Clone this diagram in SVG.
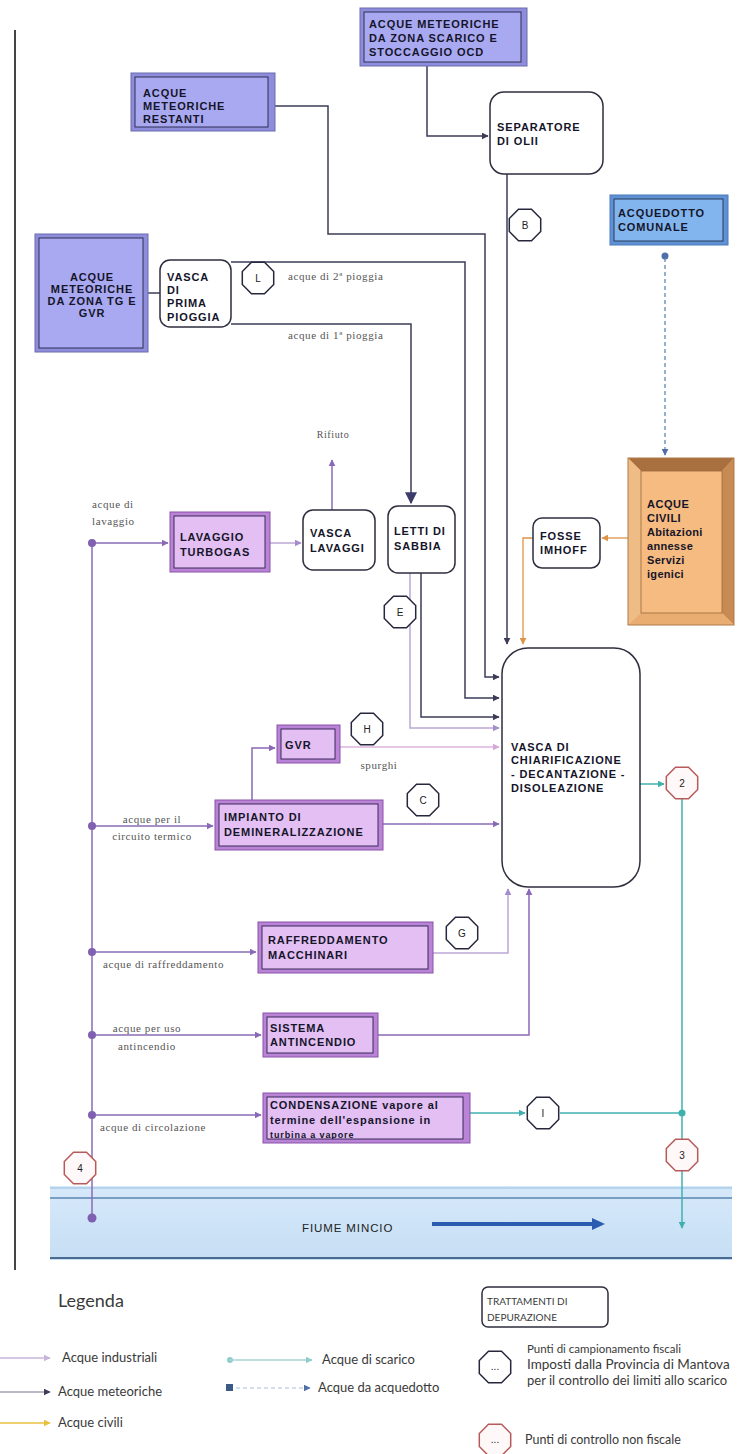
<svg xmlns="http://www.w3.org/2000/svg" width="738" height="1454" viewBox="0 0 738 1454">
<style>
.bt{font-family:"Liberation Sans",Arial,sans-serif;font-size:11px;font-weight:bold;fill:#15152a;letter-spacing:0.9px}
.lb{font-family:"Liberation Serif","Times New Roman",serif;font-size:11px;fill:#555;letter-spacing:0.6px}
.lg{font-family:Lato,"Open Sans",sans-serif;font-size:13px;fill:#3a3a3a}
.ot{font-family:"Liberation Sans",Arial,sans-serif;font-size:10px;fill:#222;text-anchor:middle}
.mOut{fill:#8d8ddc;stroke:#6a6ab0;stroke-width:1}
.mIn{fill:#a9a9f1;stroke:#2e2e52;stroke-width:1}
.pOut{fill:#b983d6;stroke:#8a52aa;stroke-width:1}
.pIn{fill:#e3bff3;stroke:#3a2a5a;stroke-width:1}
.rr{fill:#fff;stroke:#2e2e3e;stroke-width:1.5}
.ob{fill:#fff;stroke:#26263c;stroke-width:1.5}
.or{fill:#fff8f8;stroke:#b85a5a;stroke-width:1.5}
.met{fill:none;stroke:#3c3c58;stroke-width:1.5}
.ind{fill:none;stroke:#8a6ab6;stroke-width:1.5}
.indl{fill:none;stroke:#bca8d6;stroke-width:1.5}
.spu{fill:none;stroke:#e6c6e6;stroke-width:2}
.civ{fill:none;stroke:#de9448;stroke-width:1.3}
.sca{fill:none;stroke:#3fb0b0;stroke-width:1.5}
.acq{fill:none;stroke:#4f7fb0;stroke-width:1.2;stroke-dasharray:4 3}
</style>
<defs>
<marker id="aMet" viewBox="0 0 10 10" refX="9" refY="5" markerWidth="7" markerHeight="7" orient="auto" markerUnits="userSpaceOnUse"><path d="M0,0L10,5L0,10z" fill="#3c3c58"/></marker>
<marker id="aMetB" viewBox="0 0 10 10" refX="9" refY="5" markerWidth="12" markerHeight="12" orient="auto" markerUnits="userSpaceOnUse"><path d="M0,0L10,5L0,10z" fill="#3c3c6c"/></marker>
<marker id="aInd" viewBox="0 0 10 10" refX="9" refY="5" markerWidth="7" markerHeight="7" orient="auto" markerUnits="userSpaceOnUse"><path d="M0,0L10,5L0,10z" fill="#8a6ab6"/></marker>
<marker id="aIndL" viewBox="0 0 10 10" refX="9" refY="5" markerWidth="7" markerHeight="7" orient="auto" markerUnits="userSpaceOnUse"><path d="M0,0L10,5L0,10z" fill="#a58ccc"/></marker>
<marker id="aSpu" viewBox="0 0 10 10" refX="9" refY="5" markerWidth="7" markerHeight="7" orient="auto" markerUnits="userSpaceOnUse"><path d="M0,0L10,5L0,10z" fill="#d6a8d8"/></marker>
<marker id="aCiv" viewBox="0 0 10 10" refX="9" refY="5" markerWidth="7" markerHeight="7" orient="auto" markerUnits="userSpaceOnUse"><path d="M0,0L10,5L0,10z" fill="#de9448"/></marker>
<marker id="aSca" viewBox="0 0 10 10" refX="9" refY="5" markerWidth="7" markerHeight="7" orient="auto" markerUnits="userSpaceOnUse"><path d="M0,0L10,5L0,10z" fill="#3fb0b0"/></marker>
<marker id="aAcq" viewBox="0 0 10 10" refX="9" refY="5" markerWidth="7" markerHeight="7" orient="auto" markerUnits="userSpaceOnUse"><path d="M0,0L10,5L0,10z" fill="#4f6fa8"/></marker>
<marker id="aYel" viewBox="0 0 10 10" refX="9" refY="5" markerWidth="7" markerHeight="7" orient="auto" markerUnits="userSpaceOnUse"><path d="M0,0L10,5L0,10z" fill="#e8c040"/></marker>
<marker id="aLtInd" viewBox="0 0 10 10" refX="9" refY="5" markerWidth="7" markerHeight="7" orient="auto" markerUnits="userSpaceOnUse"><path d="M0,0L10,5L0,10z" fill="#c8b4dc"/></marker>
<marker id="aLtSca" viewBox="0 0 10 10" refX="9" refY="5" markerWidth="7" markerHeight="7" orient="auto" markerUnits="userSpaceOnUse"><path d="M0,0L10,5L0,10z" fill="#90cccc"/></marker>
<polygon id="oct" points="6.5,-15.7 15.7,-6.5 15.7,6.5 6.5,15.7 -6.5,15.7 -15.7,6.5 -15.7,-6.5 -6.5,-15.7"/>
<linearGradient id="river" x1="0" y1="0" x2="0" y2="1"><stop offset="0" stop-color="#d6e9fa"/><stop offset="1" stop-color="#c6def4"/></linearGradient>
<clipPath id="condClip"><rect x="267" y="1097" width="196" height="42"/></clipPath>
</defs>
<rect width="738" height="1454" fill="#fff"/>

<!-- left border line -->
<line x1="15" y1="30" x2="15" y2="1270" stroke="#444" stroke-width="2"/>

<!-- river -->
<g id="fiume">
<rect x="50" y="1186" width="682" height="74" fill="url(#river)"/>
<line x1="50" y1="1188" x2="732" y2="1188" stroke="#a8cbe6" stroke-width="1.5"/>
<line x1="50" y1="1198" x2="732" y2="1198" stroke="#5a86b0" stroke-width="1.5"/>
<line x1="50" y1="1258" x2="732" y2="1258" stroke="#4a6a90" stroke-width="2"/>
<text x="302" y="1232" class="bt" style="font-weight:normal;font-size:11.5px;fill:#222">FIUME MINCIO</text>
<line x1="432" y1="1224" x2="594" y2="1224" stroke="#2b5cb0" stroke-width="4"/>
<path d="M592,1218L605,1224L592,1230z" fill="#2b5cb0"/>
</g>

<g id="connectors">
<!-- meteoriche -->
<path class="met" d="M427,66V136H488" marker-end="url(#aMet)"/>
<path class="met" d="M275,106H328V234H485V677H499" marker-end="url(#aMet)"/>
<path class="met" d="M148,293H160"/>
<path class="met" d="M231,262H465V698H499" marker-end="url(#aMet)"/>
<path class="met" d="M231,324H411V503" marker-end="url(#aMetB)"/>
<path class="met" d="M507,174V644" marker-end="url(#aMet)"/>
<path class="met" d="M421,573V717H499" marker-end="url(#aMet)"/>
<!-- industriali -->
<path class="ind" d="M92,543V1218"/>
<path class="ind" d="M92,543H168" marker-end="url(#aInd)"/>
<path class="indl" d="M270,543H301" marker-end="url(#aIndL)"/>
<path class="ind" d="M332,510V460" marker-end="url(#aInd)"/>
<path class="indl" d="M410,573V728H499" marker-end="url(#aIndL)"/>
<path class="spu" d="M340,747H499" marker-end="url(#aSpu)"/>
<path class="ind" d="M252,800V748H275" marker-end="url(#aInd)"/>
<path class="ind" d="M92,826H213" marker-end="url(#aInd)"/>
<path class="ind" d="M383,824H499" marker-end="url(#aInd)"/>
<path class="ind" d="M92,952H256" marker-end="url(#aInd)"/>
<path class="indl" d="M433,953H508V889" marker-end="url(#aIndL)"/>
<path class="ind" d="M92,1035H261" marker-end="url(#aInd)"/>
<path class="ind" d="M378,1035H529V889" marker-end="url(#aInd)"/>
<path class="ind" d="M92,1115H261" marker-end="url(#aInd)"/>
<circle cx="92" cy="543" r="4" fill="#8060b0"/>
<circle cx="92" cy="826" r="4" fill="#8060b0"/>
<circle cx="92" cy="952" r="4" fill="#8060b0"/>
<circle cx="92" cy="1035" r="4" fill="#8060b0"/>
<circle cx="92" cy="1115" r="4" fill="#8060b0"/>
<circle cx="92" cy="1218" r="4.5" fill="#8060b0"/>
<!-- civili -->
<path class="civ" d="M628,538H602" marker-end="url(#aCiv)"/>
<path class="civ" d="M533,538H523V644" marker-end="url(#aCiv)"/>
<!-- acquedotto -->
<circle cx="665" cy="256" r="3.5" fill="#4f6fa8"/>
<path class="acq" d="M665,258V455" marker-end="url(#aAcq)"/>
<!-- scarico -->
<path class="sca" d="M640,784H664" marker-end="url(#aSca)"/>
<path class="sca" d="M682,799V1228" marker-end="url(#aSca)"/>
<path class="sca" d="M470,1113H525" marker-end="url(#aSca)"/>
<path class="sca" d="M560,1113H682"/>
<circle cx="682" cy="1113" r="3.5" fill="#3fb0b0"/>
</g>

<!-- nodes -->
<g id="n-ocd">
<rect x="360" y="8" width="167" height="58" class="mOut"/>
<rect x="364" y="12" width="157" height="50" class="mIn"/>
<text class="bt" x="369" y="28">ACQUE METEORICHE</text>
<text class="bt" x="369" y="42">DA ZONA SCARICO E</text>
<text class="bt" x="369" y="56">STOCCAGGIO OCD</text>
</g>
<g id="n-restanti">
<rect x="131" y="73" width="144" height="58" class="mOut"/>
<rect x="135" y="77" width="133" height="50" class="mIn"/>
<text class="bt" x="143" y="97">ACQUE</text>
<text class="bt" x="143" y="110">METEORICHE</text>
<text class="bt" x="143" y="123">RESTANTI</text>
</g>
<g id="n-tg">
<rect x="35" y="234" width="113" height="118" class="mOut"/>
<rect x="39" y="238" width="104" height="110" class="mIn"/>
<text class="bt" x="92" y="281" text-anchor="middle">ACQUE</text>
<text class="bt" x="92" y="293" text-anchor="middle">METEORICHE</text>
<text class="bt" x="92" y="305" text-anchor="middle">DA ZONA TG E</text>
<text class="bt" x="92" y="317" text-anchor="middle">GVR</text>
</g>
<g id="n-primapioggia">
<rect x="160" y="260" width="71" height="67" rx="10" class="rr"/>
<text class="bt" x="167" y="281">VASCA</text>
<text class="bt" x="167" y="294">DI</text>
<text class="bt" x="167" y="307">PRIMA</text>
<text class="bt" x="167" y="321">PIOGGIA</text>
</g>
<g id="n-separatore">
<rect x="490" y="92" width="113" height="82" rx="14" class="rr"/>
<text class="bt" x="497" y="131">SEPARATORE</text>
<text class="bt" x="497" y="145">DI OLII</text>
</g>
<g id="n-acquedotto">
<rect x="610" y="195" width="118" height="50" fill="#5f92d4" stroke="#4a78b8"/>
<rect x="614" y="199" width="109" height="42" fill="#82b5ee" stroke="#2a3a5a"/>
<text class="bt" x="618" y="217">ACQUEDOTTO</text>
<text class="bt" x="618" y="231">COMUNALE</text>
</g>
<g id="n-civili">
<rect x="628" y="458" width="106" height="167" fill="#f3b77c"/>
<path d="M628,458H734L722,471H641z" fill="#a9703f"/>
<path d="M734,458V625L722,613V471z" fill="#c78a52"/>
<path d="M628,625H734L722,613H641z" fill="#e9ad72"/>
<path d="M628,458V625L641,613V471z" fill="#f0bc86"/>
<rect x="641" y="471" width="81" height="142" fill="#f6bb80" stroke="#9a6a3a" stroke-width="0.8"/>
<rect x="628" y="458" width="106" height="167" fill="none" stroke="#b07a48"/>
<text class="bt" x="647" y="508" style="letter-spacing:0.5px">ACQUE</text>
<text class="bt" x="647" y="522" style="letter-spacing:0.5px">CIVILI</text>
<text class="bt" x="647" y="536" style="letter-spacing:0.3px">Abitazioni</text>
<text class="bt" x="647" y="550" style="letter-spacing:0.3px">annesse</text>
<text class="bt" x="647" y="564" style="letter-spacing:0.3px">Servizi</text>
<text class="bt" x="647" y="578" style="letter-spacing:0.3px">igenici</text>
</g>
<g id="n-fosse">
<rect x="533" y="518" width="67" height="50" rx="9" class="rr"/>
<text class="bt" x="540" y="540">FOSSE</text>
<text class="bt" x="540" y="554">IMHOFF</text>
</g>
<g id="n-lavaggio">
<rect x="170" y="512" width="100" height="60" class="pOut"/>
<rect x="174" y="516" width="91" height="52" class="pIn"/>
<text class="bt" x="180" y="541">LAVAGGIO</text>
<text class="bt" x="180" y="556">TURBOGAS</text>
</g>
<g id="n-vascalavaggi">
<rect x="303" y="510" width="72" height="60" rx="10" class="rr"/>
<text class="bt" x="310" y="537">VASCA</text>
<text class="bt" x="310" y="552">LAVAGGI</text>
</g>
<g id="n-rifiuto">
<text class="lb" x="333" y="438" text-anchor="middle" style="font-size:10px">Rifiuto</text>
</g>
<g id="n-letti">
<rect x="388" y="506" width="67" height="67" rx="10" class="rr"/>
<text class="bt" x="394" y="535">LETTI DI</text>
<text class="bt" x="394" y="550">SABBIA</text>
</g>
<g id="n-vasca">
<rect x="502" y="648" width="138" height="239" rx="26" class="rr"/>
<text class="bt" x="511" y="751">VASCA DI</text>
<text class="bt" x="511" y="764">CHIARIFICAZIONE</text>
<text class="bt" x="511" y="778">- DECANTAZIONE -</text>
<text class="bt" x="511" y="792">DISOLEAZIONE</text>
</g>
<g id="n-gvr">
<rect x="277" y="725" width="63" height="38" class="pOut"/>
<rect x="281" y="729" width="54" height="30" class="pIn"/>
<text class="bt" x="285" y="749">GVR</text>
</g>
<g id="n-impianto">
<rect x="215" y="800" width="168" height="50" class="pOut"/>
<rect x="219" y="804" width="159" height="42" class="pIn"/>
<text class="bt" x="224" y="821">IMPIANTO DI</text>
<text class="bt" x="224" y="836">DEMINERALIZZAZIONE</text>
</g>
<g id="n-raff">
<rect x="258" y="922" width="175" height="51" class="pOut"/>
<rect x="262" y="926" width="166" height="43" class="pIn"/>
<text class="bt" x="268" y="944">RAFFREDDAMENTO</text>
<text class="bt" x="268" y="959">MACCHINARI</text>
</g>
<g id="n-antinc">
<rect x="263" y="1013" width="115" height="44" class="pOut"/>
<rect x="267" y="1017" width="106" height="36" class="pIn"/>
<text class="bt" x="270" y="1032">SISTEMA</text>
<text class="bt" x="270" y="1046">ANTINCENDIO</text>
</g>
<g id="n-cond">
<rect x="263" y="1093" width="207" height="50" class="pOut"/>
<rect x="267" y="1097" width="196" height="42" class="pIn"/>
<g clip-path="url(#condClip)">
<text class="bt" x="270" y="1109">CONDENSAZIONE vapore al</text>
<text class="bt" x="270" y="1124">termine dell'espansione in</text>
<text class="bt" x="270" y="1138" style="font-size:9px">turbina a vapore</text>
</g>
</g>

<!-- labels -->
<g id="labels">
<text class="lb" x="92" y="508">acque di</text>
<text class="lb" x="92" y="525">lavaggio</text>
<text class="lb" x="288" y="280">acque di 2ª pioggia</text>
<text class="lb" x="288" y="339">acque di 1ª pioggia</text>
<text class="lb" x="379" y="769" text-anchor="middle">spurghi</text>
<text class="lb" x="152" y="823" text-anchor="middle">acque per il</text>
<text class="lb" x="152" y="840" text-anchor="middle">circuito termico</text>
<text class="lb" x="103" y="968">acque di raffreddamento</text>
<text class="lb" x="147" y="1032" text-anchor="middle">acque per uso</text>
<text class="lb" x="147" y="1050" text-anchor="middle">antincendio</text>
<text class="lb" x="100" y="1131">acque di circolazione</text>
</g>

<!-- sampling points -->
<g id="p-L"><use href="#oct" x="258" y="278" class="ob"/><text class="ot" x="258" y="282">L</text></g>
<g id="p-B"><use href="#oct" x="525" y="225" class="ob"/><text class="ot" x="525" y="229">B</text></g>
<g id="p-E"><use href="#oct" x="400" y="612" class="ob"/><text class="ot" x="400" y="616">E</text></g>
<g id="p-H"><use href="#oct" x="367" y="729" class="ob"/><text class="ot" x="367" y="733">H</text></g>
<g id="p-C"><use href="#oct" x="423" y="800" class="ob"/><text class="ot" x="423" y="804">C</text></g>
<g id="p-G"><use href="#oct" x="462" y="933" class="ob"/><text class="ot" x="462" y="937">G</text></g>
<g id="p-I"><use href="#oct" x="543" y="1113" class="ob"/><text class="ot" x="543" y="1117">I</text></g>
<g id="p-2"><use href="#oct" x="682" y="783" class="or"/><text class="ot" x="682" y="787">2</text></g>
<g id="p-3"><use href="#oct" x="682" y="1155" class="or"/><text class="ot" x="682" y="1159">3</text></g>
<g id="p-4"><use href="#oct" x="80" y="1168" class="or"/><text class="ot" x="80" y="1172">4</text></g>

<!-- legend -->
<g id="legend">
<text class="lg" x="58" y="1307" style="font-size:18px">Legenda</text>
<path d="M0,1358H50" fill="none" stroke="#c8b4dc" stroke-width="1.5" marker-end="url(#aLtInd)"/>
<text class="lg" x="62" y="1362">Acque industriali</text>
<path d="M0,1392H50" fill="none" stroke="#a0a0b4" stroke-width="1.5" marker-end="url(#aMet)"/>
<text class="lg" x="58" y="1396">Acque meteoriche</text>
<path d="M0,1423H50" fill="none" stroke="#e8c040" stroke-width="1.5" marker-end="url(#aYel)"/>
<text class="lg" x="58" y="1427">Acque civili</text>
<circle cx="230" cy="1360" r="3" fill="#90cccc"/>
<path d="M230,1360H312" fill="none" stroke="#a8d4d4" stroke-width="1.5" marker-end="url(#aLtSca)"/>
<text class="lg" x="322" y="1364">Acque di scarico</text>
<rect x="226" y="1384" width="7" height="7" fill="#3a5a8a"/>
<path d="M236,1388H310" fill="none" stroke="#a8c0dc" stroke-width="1.2" stroke-dasharray="4 3" marker-end="url(#aAcq)"/>
<text class="lg" x="318" y="1392">Acque da acquedotto</text>
<rect x="482" y="1287" width="126" height="40" rx="6" class="rr"/>
<text class="lg" x="487" y="1305" style="font-size:10px">TRATTAMENTI DI</text>
<text class="lg" x="487" y="1321" style="font-size:10px">DEPURAZIONE</text>
<use href="#oct" x="495" y="1367" class="ob"/>
<text class="ot" x="495" y="1370">...</text>
<text class="lg" x="527" y="1353" style="font-size:11.5px">Punti di campionamento fiscali</text>
<text class="lg" x="527" y="1369" style="font-size:13.5px">Imposti dalla Provincia di Mantova</text>
<text class="lg" x="527" y="1385" style="font-size:13px">per il controllo dei limiti allo scarico</text>
<use href="#oct" x="495" y="1440" class="or"/>
<text class="ot" x="495" y="1443">...</text>
<text class="lg" x="525" y="1444" style="font-size:12.5px">Punti di controllo non fiscale</text>
</g>
</svg>
